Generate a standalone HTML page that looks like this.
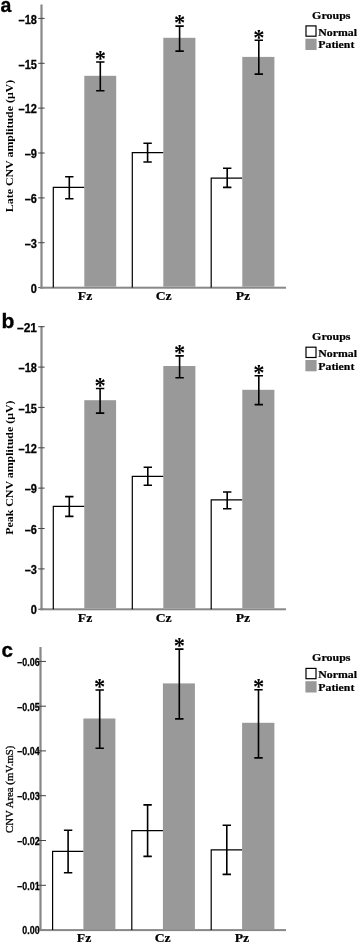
<!DOCTYPE html>
<html><head><meta charset="utf-8"><title>CNV amplitude figure</title>
<style>
html,body{margin:0;padding:0;background:#fff}
svg{display:block}
.tk{font-family:"Liberation Sans",sans-serif;font-weight:bold;fill:#000;stroke:#000;stroke-width:0.25px}
.sb{font-family:"Liberation Serif",serif;font-weight:bold;fill:#000;stroke:#000;stroke-width:0.2px}
.pl{font-family:"Liberation Sans",sans-serif;font-weight:bold;font-size:19.5px;fill:#000;stroke:#000;stroke-width:0.3px}
.as{font-family:"Liberation Serif",serif;font-weight:bold;font-size:22.5px;fill:#000}
</style></head><body>
<svg width="359" height="945" viewBox="0 0 359 945">
<rect width="359" height="945" fill="#fff"/>
<rect x="40.4" y="4.5" width="2.2" height="284.1" fill="#888888"/>
<rect x="38.2" y="17.9" width="6.4" height="1" fill="#444"/>
<text transform="translate(37 23.6) scale(0.92 1)" text-anchor="end" class="tk" font-size="12">–18</text>
<rect x="38.2" y="62.8" width="6.4" height="1" fill="#444"/>
<text transform="translate(37 68.5) scale(0.92 1)" text-anchor="end" class="tk" font-size="12">–15</text>
<rect x="38.2" y="107.6" width="6.4" height="1" fill="#444"/>
<text transform="translate(37 113.3) scale(0.92 1)" text-anchor="end" class="tk" font-size="12">–12</text>
<rect x="38.2" y="152.5" width="6.4" height="1" fill="#444"/>
<text transform="translate(37 158.2) scale(0.92 1)" text-anchor="end" class="tk" font-size="12">–9</text>
<rect x="38.2" y="197.4" width="6.4" height="1" fill="#444"/>
<text transform="translate(37 203.1) scale(0.92 1)" text-anchor="end" class="tk" font-size="12">–6</text>
<rect x="38.2" y="242.2" width="6.4" height="1" fill="#444"/>
<text transform="translate(37 248.0) scale(0.92 1)" text-anchor="end" class="tk" font-size="12">–3</text>
<rect x="38.2" y="287.1" width="6.4" height="1" fill="#444"/>
<text transform="translate(37 292.8) scale(0.92 1)" text-anchor="end" class="tk" font-size="12">0</text>
<rect x="40.2" y="286.7" width="245.8" height="2" fill="#888888"/>
<path d="M53.3 287.6V187.3H84.5" fill="none" stroke="#000" stroke-width="1.2"/>
<path d="M69.3 176.7V198.7M65.1 176.7h8.4M65.1 198.7h8.4" fill="none" stroke="#000" stroke-width="1.6"/>
<rect x="84.3" y="75.8" width="31.9" height="210.9" fill="#999999"/>
<path d="M100.3 62.0V90.8M96.1 62.0h8.4M96.1 90.8h8.4" fill="none" stroke="#000" stroke-width="1.6"/>
<text x="100.3" y="66.3" text-anchor="middle" class="as">*</text>
<path d="M132.3 287.6V152.7H163.5" fill="none" stroke="#000" stroke-width="1.2"/>
<path d="M147.6 143.3V162.0M143.4 143.3h8.4M143.4 162.0h8.4" fill="none" stroke="#000" stroke-width="1.6"/>
<rect x="163.3" y="37.8" width="32.1" height="248.9" fill="#999999"/>
<path d="M179.6 26.1V51.1M175.4 26.1h8.4M175.4 51.1h8.4" fill="none" stroke="#000" stroke-width="1.6"/>
<text x="179.6" y="30.4" text-anchor="middle" class="as">*</text>
<path d="M211.2 287.6V178.1H242.4" fill="none" stroke="#000" stroke-width="1.2"/>
<path d="M227.2 168.3V187.4M223.0 168.3h8.4M223.0 187.4h8.4" fill="none" stroke="#000" stroke-width="1.6"/>
<rect x="242.3" y="56.9" width="32.1" height="229.8" fill="#999999"/>
<path d="M258.8 40.2V74.1M254.6 40.2h8.4M254.6 74.1h8.4" fill="none" stroke="#000" stroke-width="1.6"/>
<text x="258.8" y="44.5" text-anchor="middle" class="as">*</text>
<text transform="translate(85.0 299.9) scale(1.1 1)" text-anchor="middle" class="sb" font-size="12.5">Fz</text>
<text transform="translate(163.7 299.9) scale(1.1 1)" text-anchor="middle" class="sb" font-size="12.5">Cz</text>
<text transform="translate(242.9 299.9) scale(1.1 1)" text-anchor="middle" class="sb" font-size="12.5">Pz</text>
<text transform="translate(13.1 146.0) rotate(-90) scale(1 0.87)" stroke="#000" stroke-width="0" text-anchor="middle" font-family="'Liberation Serif',serif" font-weight="bold" font-size="11.9">Late CNV amplitude (μV)</text>
<text transform="translate(0.4 11.9) scale(1 1)" class="pl">a</text>
<text transform="translate(331.3 18.8) scale(1.11 1)" text-anchor="middle" class="sb" font-size="10.8">Groups</text>
<rect x="306" y="25.9" width="10" height="10.3" fill="#fff" stroke="#000" stroke-width="1.2"/>
<rect x="305.4" y="38.7" width="11.2" height="11.3" fill="#999999"/>
<text transform="translate(318.3 35.8) scale(1.135 1)" class="sb" font-size="10.4">Normal</text>
<text transform="translate(318.3 48.4) scale(1.135 1)" class="sb" font-size="10.4">Patient</text>
<rect x="40.4" y="326.0" width="2.2" height="284.2" fill="#888888"/>
<rect x="38.2" y="326.2" width="6.4" height="1" fill="#444"/>
<text transform="translate(37 331.9) scale(1.0 1)" text-anchor="end" class="tk" font-size="12">–21</text>
<rect x="38.2" y="366.6" width="6.4" height="1" fill="#444"/>
<text transform="translate(37 372.3) scale(0.92 1)" text-anchor="end" class="tk" font-size="12">–18</text>
<rect x="38.2" y="406.9" width="6.4" height="1" fill="#444"/>
<text transform="translate(37 412.6) scale(0.92 1)" text-anchor="end" class="tk" font-size="12">–15</text>
<rect x="38.2" y="447.3" width="6.4" height="1" fill="#444"/>
<text transform="translate(37 453.0) scale(0.92 1)" text-anchor="end" class="tk" font-size="12">–12</text>
<rect x="38.2" y="487.6" width="6.4" height="1" fill="#444"/>
<text transform="translate(37 493.3) scale(0.92 1)" text-anchor="end" class="tk" font-size="12">–9</text>
<rect x="38.2" y="528.0" width="6.4" height="1" fill="#444"/>
<text transform="translate(37 533.7) scale(0.92 1)" text-anchor="end" class="tk" font-size="12">–6</text>
<rect x="38.2" y="568.4" width="6.4" height="1" fill="#444"/>
<text transform="translate(37 574.1) scale(0.92 1)" text-anchor="end" class="tk" font-size="12">–3</text>
<rect x="38.2" y="608.7" width="6.4" height="1" fill="#444"/>
<text transform="translate(37 614.4) scale(0.92 1)" text-anchor="end" class="tk" font-size="12">0</text>
<rect x="40.2" y="608.3" width="245.8" height="2" fill="#888888"/>
<path d="M53.3 609.2V506.3H84.5" fill="none" stroke="#000" stroke-width="1.2"/>
<path d="M69.3 496.6V516.4M65.1 496.6h8.4M65.1 516.4h8.4" fill="none" stroke="#000" stroke-width="1.6"/>
<rect x="84.3" y="400.2" width="31.8" height="208.1" fill="#999999"/>
<path d="M100.1 388.5V413.1M95.9 388.5h8.4M95.9 413.1h8.4" fill="none" stroke="#000" stroke-width="1.6"/>
<text x="100.1" y="392.8" text-anchor="middle" class="as">*</text>
<path d="M132.3 609.2V476.3H163.5" fill="none" stroke="#000" stroke-width="1.2"/>
<path d="M147.8 467.3V485.2M143.6 467.3h8.4M143.6 485.2h8.4" fill="none" stroke="#000" stroke-width="1.6"/>
<rect x="163.3" y="366.0" width="32.1" height="242.3" fill="#999999"/>
<path d="M179.6 355.9V377.7M175.4 355.9h8.4M175.4 377.7h8.4" fill="none" stroke="#000" stroke-width="1.6"/>
<text x="179.6" y="360.2" text-anchor="middle" class="as">*</text>
<path d="M211.2 609.2V499.8H242.4" fill="none" stroke="#000" stroke-width="1.2"/>
<path d="M227.2 492.0V508.8M223.0 492.0h8.4M223.0 508.8h8.4" fill="none" stroke="#000" stroke-width="1.6"/>
<rect x="242.3" y="389.8" width="32.1" height="218.5" fill="#999999"/>
<path d="M258.8 375.8V404.6M254.6 375.8h8.4M254.6 404.6h8.4" fill="none" stroke="#000" stroke-width="1.6"/>
<text x="258.8" y="380.1" text-anchor="middle" class="as">*</text>
<text transform="translate(85.0 621.5) scale(1.1 1)" text-anchor="middle" class="sb" font-size="12.5">Fz</text>
<text transform="translate(163.7 621.5) scale(1.1 1)" text-anchor="middle" class="sb" font-size="12.5">Cz</text>
<text transform="translate(242.9 621.5) scale(1.1 1)" text-anchor="middle" class="sb" font-size="12.5">Pz</text>
<text transform="translate(13.1 467.7) rotate(-90) scale(1 0.87)" stroke="#000" stroke-width="0" text-anchor="middle" font-family="'Liberation Serif',serif" font-weight="bold" font-size="11.9">Peak CNV amplitude (μV)</text>
<text transform="translate(1.6 328.1) scale(1.08 1)" class="pl">b</text>
<text transform="translate(331.3 340.1) scale(1.11 1)" text-anchor="middle" class="sb" font-size="10.8">Groups</text>
<rect x="306" y="347.2" width="10" height="10.3" fill="#fff" stroke="#000" stroke-width="1.2"/>
<rect x="305.4" y="360.0" width="11.2" height="11.3" fill="#999999"/>
<text transform="translate(318.3 357.1) scale(1.135 1)" class="sb" font-size="10.4">Normal</text>
<text transform="translate(318.3 369.7) scale(1.135 1)" class="sb" font-size="10.4">Patient</text>
<rect x="39.4" y="647.0" width="2.2" height="284.0" fill="#888888"/>
<rect x="37.2" y="660.9" width="8.8" height="1" fill="#444"/>
<text transform="translate(39.6 665.8) scale(0.89 1)" text-anchor="end" class="tk" font-size="10">–0.06</text>
<rect x="37.2" y="705.7" width="8.8" height="1" fill="#444"/>
<text transform="translate(39.6 710.6) scale(0.89 1)" text-anchor="end" class="tk" font-size="10">–0.05</text>
<rect x="37.2" y="750.4" width="8.8" height="1" fill="#444"/>
<text transform="translate(39.6 755.3) scale(0.89 1)" text-anchor="end" class="tk" font-size="10">–0.04</text>
<rect x="37.2" y="795.2" width="8.8" height="1" fill="#444"/>
<text transform="translate(39.6 800.1) scale(0.89 1)" text-anchor="end" class="tk" font-size="10">–0.03</text>
<rect x="37.2" y="840.0" width="8.8" height="1" fill="#444"/>
<text transform="translate(39.6 844.9) scale(0.89 1)" text-anchor="end" class="tk" font-size="10">–0.02</text>
<rect x="37.2" y="884.8" width="8.8" height="1" fill="#444"/>
<text transform="translate(39.6 889.6) scale(0.89 1)" text-anchor="end" class="tk" font-size="10">–0.01</text>
<rect x="37.2" y="929.5" width="8.8" height="1" fill="#444"/>
<text transform="translate(39.6 934.4) scale(0.89 1)" text-anchor="end" class="tk" font-size="10">0.00</text>
<rect x="39.2" y="929.1" width="246.8" height="2" fill="#888888"/>
<path d="M52.6 930.0V851.3H83.6" fill="none" stroke="#000" stroke-width="1.2"/>
<path d="M68.1 830.2V872.7M63.9 830.2h8.4M63.9 872.7h8.4" fill="none" stroke="#000" stroke-width="1.6"/>
<rect x="83.4" y="718.5" width="32.0" height="210.6" fill="#999999"/>
<path d="M99.7 690.0V748.3M95.5 690.0h8.4M95.5 748.3h8.4" fill="none" stroke="#000" stroke-width="1.6"/>
<text x="99.7" y="694.3" text-anchor="middle" class="as">*</text>
<path d="M131.8 930.0V830.6H163.0" fill="none" stroke="#000" stroke-width="1.2"/>
<path d="M147.6 804.9V856.4M143.4 804.9h8.4M143.4 856.4h8.4" fill="none" stroke="#000" stroke-width="1.6"/>
<rect x="162.9" y="683.4" width="32.0" height="245.7" fill="#999999"/>
<path d="M179.3 649.1V718.9M175.1 649.1h8.4M175.1 718.9h8.4" fill="none" stroke="#000" stroke-width="1.6"/>
<text x="179.3" y="653.4" text-anchor="middle" class="as">*</text>
<path d="M211.2 930.0V849.8H242.2" fill="none" stroke="#000" stroke-width="1.2"/>
<path d="M226.8 825.2V874.4M222.6 825.2h8.4M222.6 874.4h8.4" fill="none" stroke="#000" stroke-width="1.6"/>
<rect x="242.1" y="722.8" width="32.3" height="206.3" fill="#999999"/>
<path d="M258.5 689.7V757.9M254.3 689.7h8.4M254.3 757.9h8.4" fill="none" stroke="#000" stroke-width="1.6"/>
<text x="258.5" y="694.0" text-anchor="middle" class="as">*</text>
<text transform="translate(84.0 942.3) scale(1.1 1)" text-anchor="middle" class="sb" font-size="12.5">Fz</text>
<text transform="translate(162.7 942.3) scale(1.1 1)" text-anchor="middle" class="sb" font-size="12.5">Cz</text>
<text transform="translate(241.9 942.3) scale(1.1 1)" text-anchor="middle" class="sb" font-size="12.5">Pz</text>
<text transform="translate(13.1 789.3) rotate(-90) scale(1 0.88)" stroke="#000" stroke-width="0.3" text-anchor="middle" font-family="'Liberation Serif',serif" font-weight="normal" font-size="10.8">CNV Area (mV.mS)</text>
<text transform="translate(1.6 656.9) scale(1.06 1)" class="pl">c</text>
<text transform="translate(331.3 661.3) scale(1.11 1)" text-anchor="middle" class="sb" font-size="10.8">Groups</text>
<rect x="306" y="668.4" width="10" height="10.3" fill="#fff" stroke="#000" stroke-width="1.2"/>
<rect x="305.4" y="681.2" width="11.2" height="11.3" fill="#999999"/>
<text transform="translate(318.3 678.3) scale(1.135 1)" class="sb" font-size="10.4">Normal</text>
<text transform="translate(318.3 690.9) scale(1.135 1)" class="sb" font-size="10.4">Patient</text>
</svg>
</body></html>
